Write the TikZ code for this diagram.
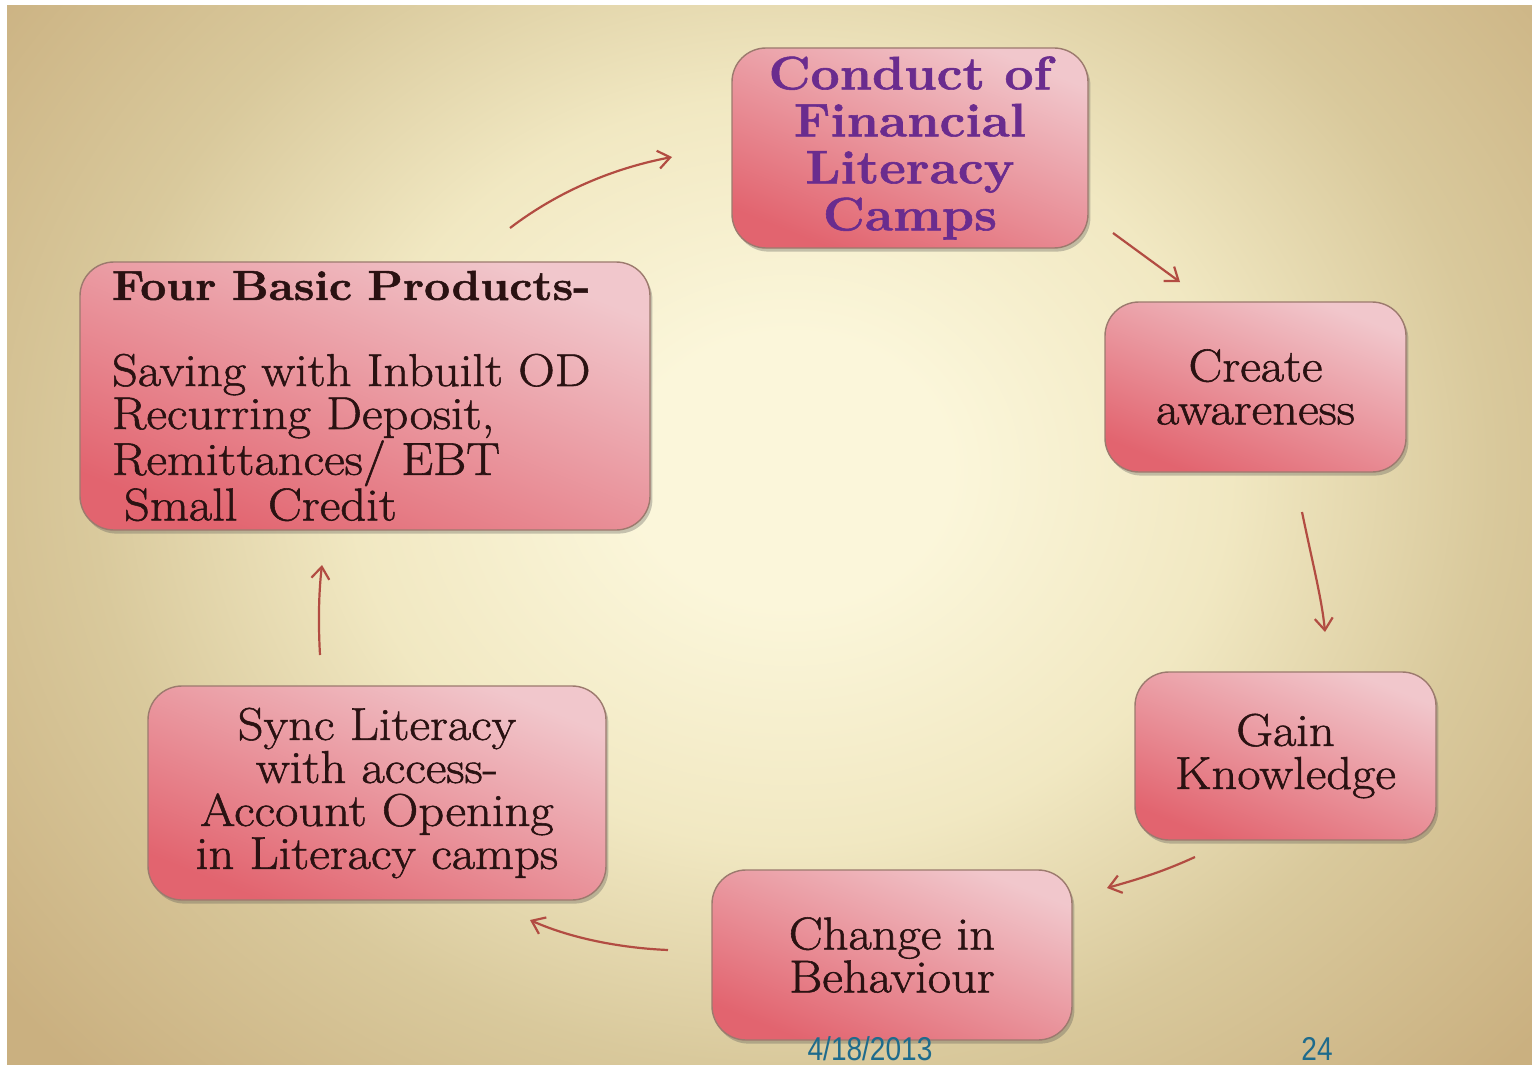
\documentclass[tikz,border=0pt]{standalone}
\usepackage{fontspec}
\setmainfont{Latin Modern Roman}[FakeStretch=1.1, FakeBold=1.2]
\newfontfamily\datefont[FakeStretch=0.85]{Liberation Sans}
\usetikzlibrary{arrows.meta,shadows}

\definecolor{bgIn}{HTML}{FBF6DA}
\definecolor{bgMid}{HTML}{F1E8C2}
\definecolor{bgEdge}{HTML}{D9C99C}
\definecolor{bgOut}{HTML}{CAB080}
\definecolor{pinkL}{HTML}{F1C7CC}
\definecolor{pinkD}{HTML}{E2646F}
\definecolor{rim}{HTML}{9C7A6E}
\definecolor{inkDark}{HTML}{2A1212}
\definecolor{inkPurple}{HTML}{6A2C8E}
\definecolor{arrowRed}{HTML}{B24C42}
\definecolor{dateBlue}{HTML}{1E6B8C}

% warm glow behind the cycle (25bp reaches the rim of the shaded ellipse)
\pgfdeclareradialshading{bgglow}{\pgfpoint{0bp}{0bp}}{%
  color(0bp)=(bgIn); color(4bp)=(bgIn); color(11bp)=(bgMid);
  color(17.5bp)=(bgEdge); color(25bp)=(bgOut); color(50bp)=(bgOut)}

\tikzset{
  stage/.style={rounded corners=17pt, draw=rim, line width=0.7pt,
    top color=pinkL, bottom color=pinkD, shading angle=-22,
    drop shadow={shadow xshift=1.2pt, shadow yshift=-1.8pt, opacity=0.3, fill=black!70},
    text=inkDark, font=\fontsize{23}{21.5}\selectfont, align=center, inner sep=0pt},
  flow/.style={draw=arrowRed, line width=1.1pt,
    -{Straight Barb[length=6pt,width=9pt]}},
  stamp/.style={text=dateBlue, font=\datefont\fontsize{16.5}{17}\selectfont,
    anchor=base, inner sep=0pt}
}

\begin{document}
\begin{tikzpicture}[x=0.5pt,y=-0.5pt]
\useasboundingbox (0,0) rectangle (1532,1065);
\fill[white] (0,0) rectangle (1532,1065);
\begin{scope}
  \clip (7,6) rectangle (1532,1065);
  \fill[bgOut] (7,6) rectangle (1532,1065);
  \shade[shading=bgglow] (790,470) ellipse [x radius=1000, y radius=850];
\end{scope}

% stages of the cycle
\node[stage, minimum width=178pt, minimum height=100pt, text=inkPurple,
      font=\bfseries\fontsize{23.5}{23.5}\selectfont] (camps) at (910,148)
  {Conduct of\\Financial\\Literacy\\Camps};
\node[stage, minimum width=150.5pt, minimum height=85pt] (aware) at (1255.5,387)
  {Create\\awareness};
\node[stage, minimum width=150.5pt, minimum height=84pt] (gain) at (1285.5,756)
  {Gain\\Knowledge};
\node[stage, minimum width=180pt, minimum height=85pt] (change) at (892,955)
  {Change in\\Behaviour};
\node[stage, minimum width=229pt, minimum height=107pt] (sync) at (377,793)
  {Sync Literacy\\with access-\\Account Opening\\in Literacy camps};
\node[stage, minimum width=285pt, minimum height=134pt, align=left,
      text width=253pt, inner xsep=16pt] (products) at (365,396)
  {\mbox{\bfseries\fontsize{21}{21.5}\selectfont Four Basic Products-}\\[21.5pt]Saving with Inbuilt OD\\Recurring Deposit,\\Remittances/ EBT\\\hspace{6pt}Small\ \ Credit};

% arrow end points
\coordinate (f1s) at (510,228);  \coordinate (f1e) at (672,157);
\coordinate (f2s) at (1113,233); \coordinate (f2e) at (1180,282);
\coordinate (f3s) at (1302,512); \coordinate (f3e) at (1325,632);
\coordinate (f4s) at (1195,857); \coordinate (f4e) at (1107,888);
\coordinate (f5s) at (668,950);  \coordinate (f5e) at (530,920);
\coordinate (f6s) at (320,655);  \coordinate (f6e) at (322,565);

\draw[flow] (f1s) .. controls (560,190) and (615,168) .. (f1e);
\draw[flow] (f2s) -- (f2e);
\draw[flow] (f3s) .. controls (1313,565) and (1322,600) .. (f3e);
\draw[flow] (f4s) .. controls (1160,873) and (1135,880) .. (f4e);
\draw[flow] (f5s) .. controls (620,948) and (570,938) .. (f5e);
\draw[flow] (f6s) .. controls (318,620) and (319,590) .. (f6e);

% footer
\node[stamp] (date) at (870,1060) {4/18/2013};
\node[stamp] (page) at (1317,1060) {24};
\end{tikzpicture}
\end{document}
